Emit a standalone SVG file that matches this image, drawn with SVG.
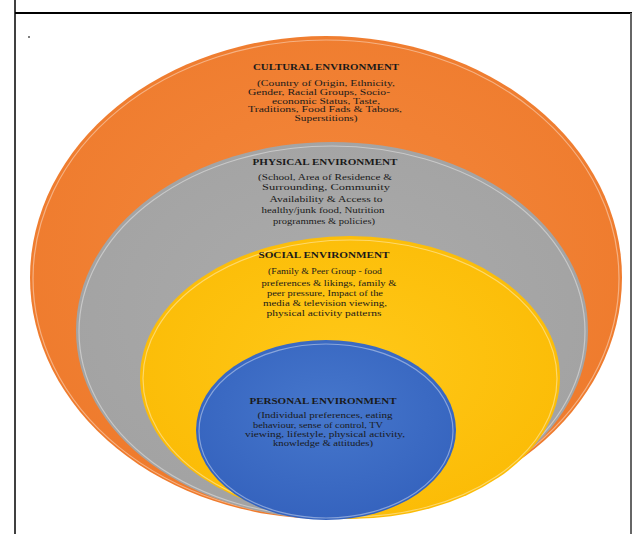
<svg xmlns="http://www.w3.org/2000/svg" width="633" height="534" viewBox="0 0 633 534">
<style>
.t{font-family:"Liberation Serif","Times New Roman",serif;font-weight:bold;font-size:8px;fill:#1a1a1a;text-anchor:middle}
.b{font-family:"Liberation Serif","Times New Roman",serif;font-size:8px;fill:#1a1a1a;text-anchor:middle}
.rim{fill:none;stroke:#ffffff;stroke-opacity:0.4;stroke-width:1.2}
</style>
<defs>
<radialGradient id="gO" cx="50%" cy="45%" r="60%"><stop offset="0" stop-color="#F4883C"/><stop offset="1" stop-color="#EE7A2C"/></radialGradient>
<radialGradient id="gG" cx="50%" cy="45%" r="60%"><stop offset="0" stop-color="#ABABAB"/><stop offset="1" stop-color="#A2A2A2"/></radialGradient>
<radialGradient id="gY" cx="50%" cy="45%" r="60%"><stop offset="0" stop-color="#FFC818"/><stop offset="1" stop-color="#FBBB05"/></radialGradient>
<radialGradient id="gB" cx="50%" cy="40%" r="60%"><stop offset="0" stop-color="#4677CC"/><stop offset="1" stop-color="#3563BE"/></radialGradient>
</defs>
<rect width="633" height="534" fill="#ffffff"/>
<g id="frame">
<line x1="15" y1="0" x2="15" y2="534" stroke="#000" stroke-width="1.5"/>
<line x1="15" y1="13" x2="632" y2="13" stroke="#000" stroke-width="2"/>
<line x1="631" y1="13" x2="631" y2="534" stroke="#666" stroke-width="2"/>
<rect x="28.5" y="36" width="1" height="2" fill="#000"/>
</g>
<g id="cultural">
<ellipse cx="326" cy="277.5" rx="296" ry="241.5" fill="url(#gO)"/>
<ellipse cx="326" cy="278.5" rx="293" ry="238.5" class="rim"/>
<text class="t" x="326" y="70" textLength="146" lengthAdjust="spacingAndGlyphs">CULTURAL ENVIRONMENT</text>
<text class="b" x="326" y="86" textLength="138" lengthAdjust="spacingAndGlyphs">(Country of Origin, Ethnicity,</text>
<text class="b" x="319" y="94.5" textLength="142" lengthAdjust="spacingAndGlyphs">Gender, Racial Groups, Socio-</text>
<text class="b" x="326" y="103.5" textLength="108" lengthAdjust="spacingAndGlyphs">economic Status, Taste,</text>
<text class="b" x="325" y="112" textLength="154" lengthAdjust="spacingAndGlyphs">Traditions, Food Fads &amp; Taboos,</text>
<text class="b" x="326" y="121" textLength="63" lengthAdjust="spacingAndGlyphs">Superstitions)</text>
</g>
<g id="physical">
<ellipse cx="332" cy="330.5" rx="256" ry="188.5" fill="url(#gG)"/>
<ellipse cx="332" cy="331.5" rx="253" ry="185.5" class="rim"/>
<text class="t" x="325" y="165" textLength="145" lengthAdjust="spacingAndGlyphs">PHYSICAL ENVIRONMENT</text>
<text class="b" x="325" y="180" textLength="134" lengthAdjust="spacingAndGlyphs">(School, Area of Residence &amp;</text>
<text class="b" x="326" y="190" textLength="128" lengthAdjust="spacingAndGlyphs">Surrounding, Community</text>
<text class="b" x="326" y="202" textLength="113" lengthAdjust="spacingAndGlyphs">Availability &amp; Access to</text>
<text class="b" x="323" y="213" textLength="123" lengthAdjust="spacingAndGlyphs">healthy/junk food, Nutrition</text>
<text class="b" x="324" y="224" textLength="102" lengthAdjust="spacingAndGlyphs">programmes &amp; policies)</text>
</g>
<g id="social">
<ellipse cx="350" cy="377.5" rx="210" ry="141.5" fill="url(#gY)"/>
<ellipse cx="350" cy="378.5" rx="207" ry="138.5" class="rim"/>
<text class="t" x="324" y="258" textLength="131" lengthAdjust="spacingAndGlyphs">SOCIAL ENVIRONMENT</text>
<text class="b" x="325" y="274" textLength="114" lengthAdjust="spacingAndGlyphs">(Family &amp; Peer Group - food</text>
<text class="b" x="329" y="286" textLength="135" lengthAdjust="spacingAndGlyphs">preferences &amp; likings, family &amp;</text>
<text class="b" x="325" y="296" textLength="116" lengthAdjust="spacingAndGlyphs">peer pressure, Impact of the</text>
<text class="b" x="325" y="306" textLength="124" lengthAdjust="spacingAndGlyphs">media &amp; television viewing,</text>
<text class="b" x="324" y="316" textLength="115" lengthAdjust="spacingAndGlyphs">physical activity patterns</text>
</g>
<g id="personal">
<ellipse cx="326" cy="430" rx="130" ry="90" fill="url(#gB)"/>
<ellipse cx="326" cy="431" rx="127" ry="87" class="rim"/>
<text class="t" x="323" y="404" textLength="147" lengthAdjust="spacingAndGlyphs">PERSONAL ENVIRONMENT</text>
<text class="b" x="325" y="418" textLength="135" lengthAdjust="spacingAndGlyphs">(Individual preferences, eating</text>
<text class="b" x="318" y="427.5" textLength="130" lengthAdjust="spacingAndGlyphs">behaviour, sense of control, TV</text>
<text class="b" x="325" y="436.5" textLength="160" lengthAdjust="spacingAndGlyphs">viewing, lifestyle, physical activity,</text>
<text class="b" x="323" y="446" textLength="100" lengthAdjust="spacingAndGlyphs">knowledge &amp; attitudes)</text>
</g>
</svg>
